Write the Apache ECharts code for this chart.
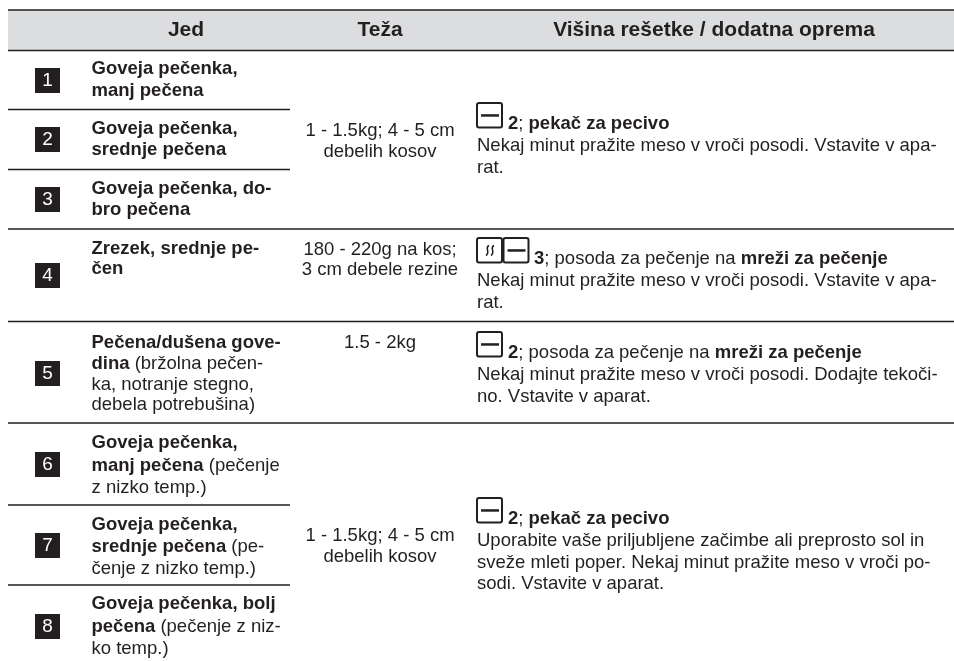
<!DOCTYPE html>
<html>
<head>
<meta charset="utf-8">
<style>
  html, body { margin: 0; padding: 0; background: #fff; }
  #chart { width: 954px; height: 661px; }
</style>
<script src="https://cdn.jsdelivr.net/npm/echarts@6/dist/echarts.min.js"></script>
</head>
<body>
<div id="chart"></div>
<script>
// Table content
const headers = ['Jed', 'Teža', 'Višina rešetke / dodatna oprema'];
const rowNumbers = ['1', '2', '3', '4', '5', '6', '7', '8'];
const dishes = [
  '{b|Goveja pečenka,}\n{b|manj pečena}',
  '{b|Goveja pečenka,}\n{b|srednje pečena}',
  '{b|Goveja pečenka, do-}\n{b|bro pečena}',
  '{b|Zrezek, srednje pe-}\n{b|čen}',
  '{b|Pečena/dušena gove-}\n{b|dina}{n| (bržolna pečen-}\n{n|ka, notranje stegno,}\n{n|debela potrebušina)}',
  '{b|Goveja pečenka,}\n{b|manj pečena}{n| (pečenje}\n{n|z nizko temp.)}',
  '{b|Goveja pečenka,}\n{b|srednje pečena}{n| (pe-}\n{n|čenje z nizko temp.)}',
  '{b|Goveja pečenka, bolj}\n{b|pečena}{n| (pečenje z niz-}\n{n|ko temp.)}'
];
const weights = [
  '{n|1 - 1.5kg; 4 - 5 cm}\n{n|debelih kosov}',
  '{n|180 - 220g na kos;}\n{n|3 cm debele rezine}',
  '{n|1.5 - 2kg}',
  '{n|1 - 1.5kg; 4 - 5 cm}\n{n|debelih kosov}'
];
const accessoryHeads = [
  '{b|2}{n|; }{b|pekač za pecivo}',
  '{b|3}{n|; posoda za pečenje na }{b|mreži za pečenje}',
  '{b|2}{n|; posoda za pečenje na }{b|mreži za pečenje}',
  '{b|2}{n|; }{b|pekač za pecivo}'
];
const accessoryNotes = [
  '{n|Nekaj minut pražite meso v vroči posodi. Vstavite v apa-}\n{n|rat.}',
  '{n|Nekaj minut pražite meso v vroči posodi. Vstavite v apa-}\n{n|rat.}',
  '{n|Nekaj minut pražite meso v vroči posodi. Dodajte tekoči-}\n{n|no. Vstavite v aparat.}',
  '{n|Uporabite vaše priljubljene začimbe ali preprosto sol in}\n{n|sveže mleti poper. Nekaj minut pražite meso v vroči po-}\n{n|sodi. Vstavite v aparat.}'
];

// Layout, in axis units (the axes map 1:1 onto the page)
const bandTop = 10, bandBottom = 50.5, tableLeft = 8, tableRight = 954, shortRuleEnd = 290;
const fullRules = [229, 321.5, 423];
const shortRules = [109.5, 169.5, 505, 585];
const badgeTops = [68, 127, 187, 263, 361, 452, 533, 614];
const dishTops = [58, 118, 178, 239, 333, 432, 513.5, 593];
const dishGaps = [22, 21.5, 21.5, 20, 20.6, 22.3, 22, 22.3];
const weightTops = [120, 239.5, 332.5, 525];
const weightGaps = [21, 20, 21, 21];
const accessoryTops = [103, 238, 332, 498];
const iconSets = [1, 2, 1, 1];
const headerCentres = [186, 380, 714];

const ink = '#231f20';
const font = '"Liberation Sans", Arial, sans-serif';
const bodySize = 18.5, lineGap = 21.7;

function text(api, x, y, str, align, gap) {
  const p = api.coord([x, y]);
  const lh = gap || lineGap;
  return {
    type: 'text',
    style: {
      x: p[0], y: p[1], text: str, align: align || 'left', verticalAlign: 'top',
      rich: {
        b: { fontFamily: font, fontSize: bodySize, fontWeight: 'bold', lineHeight: lh, fill: ink },
        n: { fontFamily: font, fontSize: bodySize, lineHeight: lh, fill: ink }
      }
    }
  };
}

function rect(api, x0, y0, x1, y1, style) {
  const a = api.coord([x0, y0]), b = api.coord([x1, y1]);
  return { type: 'rect', shape: { x: a[0], y: a[1], width: b[0] - a[0], height: b[1] - a[1], r: style.r || 0 }, style };
}

function rule(api, x0, x1, y, w) {
  return rect(api, x0, y - w / 2, x1, y + w / 2, { fill: ink });
}

function heightIcon(api, x, y, steam) {
  const out = [rect(api, x, y, x + 25, y + 24.5, { fill: '#fff', stroke: ink, lineWidth: 2, r: 2 })];
  if (steam) {
    [x + 10, x + 15].forEach(sx => {
      const a = api.coord([sx, y + 7.5]);
      out.push({
        type: 'path',
        shape: { pathData: `M${a[0] + 2} ${a[1]} C${a[0] - 3} ${a[1] + 2} ${a[0] + 4} ${a[1] + 7} ${a[0] - 1} ${a[1] + 10}` },
        style: { fill: 'none', stroke: ink, lineWidth: 1.5 }
      });
    });
  } else {
    out.push(rect(api, x + 4, y + 11.2, x + 22, y + 13.7, { fill: ink }));
  }
  return out;
}

const renderers = {
  frame(api) {
    const out = [rect(api, tableLeft, bandTop, tableRight, bandBottom, { fill: '#dcddde' })];
    [bandTop, bandBottom].forEach(y => out.push(rule(api, tableLeft, tableRight, y, 1.3)));
    fullRules.forEach(y => out.push(rule(api, tableLeft, tableRight, y, 1.5)));
    shortRules.forEach(y => out.push(rule(api, tableLeft, shortRuleEnd, y, 1.5)));
    return out;
  },
  headers(api) {
    return headers.map((h, i) => {
      const p = api.coord([headerCentres[i], (bandTop + bandBottom) / 2]);
      return { type: 'text', style: { x: p[0], y: p[1], text: h, fill: ink, font: 'bold 21px ' + font, align: 'center', verticalAlign: 'middle' } };
    });
  },
  badges(api) {
    const out = [];
    rowNumbers.forEach((n, i) => {
      out.push(rect(api, 35, badgeTops[i], 60, badgeTops[i] + 25, { fill: ink }));
      const p = api.coord([47.5, badgeTops[i] + 12.5]);
      out.push({ type: 'text', style: { x: p[0], y: p[1], text: n, fill: '#fff', font: '19px ' + font, align: 'center', verticalAlign: 'middle' } });
    });
    return out;
  },
  cells(api) {
    const out = [];
    dishes.forEach((d, i) => out.push(text(api, 91.5, dishTops[i], d, 'left', dishGaps[i])));
    weights.forEach((w, i) => out.push(text(api, 380, weightTops[i], w, 'center', weightGaps[i])));
    accessoryHeads.forEach((h, i) => {
      const top = accessoryTops[i];
      const sets = iconSets[i];
      if (sets === 2) out.push(...heightIcon(api, 477, top, true));
      out.push(...heightIcon(api, 477 + (sets - 1) * 26.5, top, false));
      out.push(text(api, 508 + (sets - 1) * 26, top + 10, h));
      out.push(text(api, 477, top + 32, accessoryNotes[i]));
    });
    return out;
  }
};

const chart = echarts.init(document.getElementById('chart'), null, { renderer: 'canvas' });
chart.setOption({
  animation: false,
  backgroundColor: '#fff',
  grid: { left: 0, right: 0, top: 0, bottom: 0 },
  xAxis: { type: 'value', min: 0, max: 954, show: false },
  yAxis: { type: 'value', min: 0, max: 661, inverse: true, show: false },
  series: Object.keys(renderers).map(name => ({
    type: 'custom',
    name,
    coordinateSystem: 'cartesian2d',
    silent: true,
    clip: false,
    data: [[0, 0]],
    renderItem: (params, api) => ({ type: 'group', children: renderers[name](api) })
  }))
});
</script>
</body>
</html>
